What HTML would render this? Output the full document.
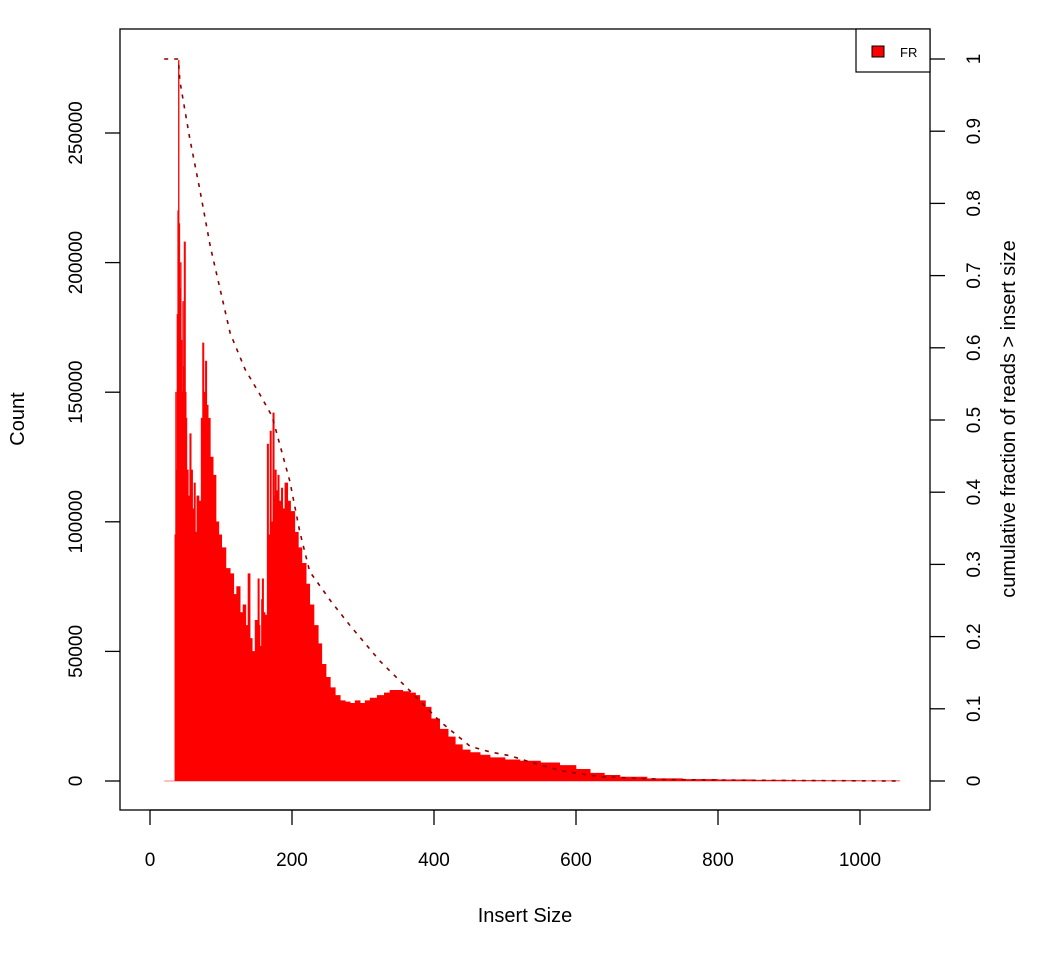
<!DOCTYPE html>
<html><head><meta charset="utf-8"><style>
html,body{margin:0;padding:0;background:#fff;}
svg text{font-family:"Liberation Sans",Arial,sans-serif;fill:#000;}
</style></head><body>
<svg id="chart" width="1050" height="960" xmlns="http://www.w3.org/2000/svg">
<rect x="0" y="0" width="1050" height="960" fill="#fff"/>
<g id="hist"></g>
<g id="cum"></g>
<rect x="120" y="29" width="810" height="781" fill="none" stroke="#000" stroke-width="1.3"/>
<g id="xaxis"></g>
<g id="yaxis"></g>
<g id="y2axis"></g>
<text x="525" y="922" font-size="20" text-anchor="middle">Insert Size</text>
<text transform="translate(24,419) rotate(-90)" font-size="20" text-anchor="middle">Count</text>
<text transform="translate(1015,419) rotate(-90)" font-size="20" text-anchor="middle">cumulative fraction of reads &gt; insert size</text>
<g>
<rect x="856" y="29" width="74" height="43" fill="#fff" stroke="#000" stroke-width="1.2"/>
<rect x="872" y="46" width="12" height="11" fill="#ff0000" stroke="#000" stroke-width="1"/>
<text x="900" y="57" font-size="13">FR</text>
</g>
</svg>
<script>
const insertSizes=[20,34,35,36,37,38,39,40,41,42,43,44,45,46,47,48,50,51,52,54,56,58,60,62,64,66,69,72,74,76,78,80,82,85,89,93,97,101,107,113,118,122,127,131,135,138,141,144,148,152,154,155,157,158,160,162,165,167,169,171,173,175,176,178,180,182,185,187,190,194,198,204,209,214,220,225,231,237,242,248,254,261,268,275,282,289,296,303,310,320,330,338,346,356,366,374,380,388,396,408,420,430,440,451,465,479,500,521,550,577,600,620,640,662,700,750,800,850,900,950,1000,1055];
const counts=[0,0,95000,150000,120000,180000,220000,278000,215000,190000,200000,170000,150000,185000,160000,208000,150000,140000,120000,110000,134000,120000,105000,115000,96000,110000,108000,140000,169000,150000,162000,145000,140000,125000,118000,100000,95000,90000,82000,80000,72000,75000,65000,68000,60000,80000,55000,50000,62000,78000,60000,52000,70000,78000,65000,64000,130000,95000,135000,100000,142000,110000,120000,112000,118000,108000,113000,105000,115000,108000,104000,96000,90000,84000,76000,68000,60000,53000,45000,40000,36000,33000,31000,30500,30000,31000,30000,31000,32000,33000,34000,35000,35000,34500,34000,33000,31000,28500,24000,20000,17000,14000,12000,11000,10000,9000,8200,7700,7000,6000,4500,3000,2200,1500,900,600,450,300,200,150,100,80];
const cumSizes=[20,40,42,56,70,85,99,113,134,155,172,197,211,225,254,282,324,366,408,451,480,507,540,580,634,730,850,1000,1055];
const cumFrac=[1,1,0.97,0.89,0.82,0.74,0.68,0.62,0.57,0.535,0.505,0.415,0.345,0.29,0.25,0.215,0.166,0.125,0.083,0.048,0.04,0.035,0.025,0.014,0.006,0.002,0.001,0.0003,0];
const xTicks=[0,200,400,600,800,1000];
const yTicks=[0,50000,100000,150000,200000,250000];
const y2Ticks=[0,0.1,0.2,0.3,0.4,0.5,0.6,0.7,0.8,0.9,1];
const y2Labels=["0","0.1","0.2","0.3","0.4","0.5","0.6","0.7","0.8","0.9","1"];
const NS="http://www.w3.org/2000/svg";
const X=v=>150+v*0.71;
const Y=v=>781-v*(648/250000);
const Y2=v=>781-v*722;
function mk(t,a,p){const e=document.createElementNS(NS,t);for(const k in a)e.setAttribute(k,a[k]);p.appendChild(e);return e;}
// histogram as step polygon
let d="M"+X(insertSizes[0])+","+Y(0);
for(let i=0;i<insertSizes.length;i++){
  const x0=X(insertSizes[i]), x1=i+1<insertSizes.length?X(insertSizes[i+1]):X(insertSizes[i])+1;
  d+=" L"+x0+","+Y(counts[i])+" L"+x1+","+Y(counts[i]);
}
d+=" L"+X(insertSizes[insertSizes.length-1])+","+Y(0)+" Z";
const hp=mk("path",{d:d,fill:"#ff0000",stroke:"#ff0000","stroke-width":"0.6"},document.getElementById("hist"));


// cumulative
const cp=mk("polyline",{points:cumSizes.map((s,i)=>X(s)+","+Y2(cumFrac[i])).join(" "),fill:"none",stroke:"#8b0000","stroke-width":"1.6","stroke-dasharray":"4 6"},document.getElementById("cum"));


// x axis
const xa=document.getElementById("xaxis");
const xl=mk("line",{x1:X(0),x2:X(1000),y1:810,y2:810,stroke:"#000","stroke-width":"1.3"},xa);
xTicks.forEach(v=>{
  const t=mk("line",{x1:X(v),x2:X(v),y1:810,y2:825,stroke:"#000","stroke-width":"1.3"},xa);
  
  
  const l=mk("text",{x:X(v),y:866,"font-size":"19","text-anchor":"middle"},xa);
  l.textContent=v;
  
  
});
// y axis
const ya=document.getElementById("yaxis");
yTicks.forEach(v=>{
  const t=mk("line",{x1:105,x2:120,y1:Y(v),y2:Y(v),stroke:"#000","stroke-width":"1.3"},ya);
  
  
  const l=mk("text",{transform:"translate(82,"+Y(v)+") rotate(-90)","font-size":"19","text-anchor":"middle"},ya);
  l.textContent=v;
  
  
});
// y2 axis
const y2a=document.getElementById("y2axis");
y2Ticks.forEach((v,i)=>{
  const t=mk("line",{x1:930,x2:945,y1:Y2(v),y2:Y2(v),stroke:"#000","stroke-width":"1.3"},y2a);
  
  
  const l=mk("text",{transform:"translate(980,"+Y2(v)+") rotate(-90)","font-size":"19","text-anchor":"middle"},y2a);
  l.textContent=y2Labels[i];
  
  
});
</script>
</body></html>
